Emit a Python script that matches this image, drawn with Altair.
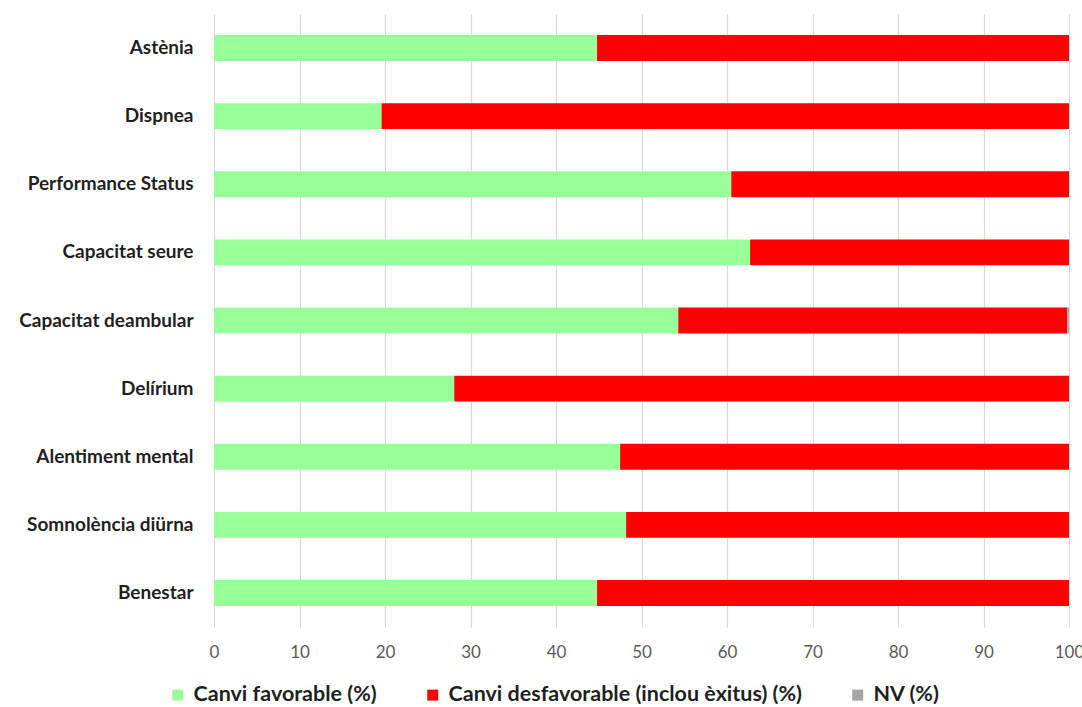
import altair as alt
import pandas as pd

# Symptoms (top to bottom)
symptoms = [
    "Astènia",
    "Dispnea",
    "Performance Status",
    "Capacitat seure",
    "Capacitat deambular",
    "Delírium",
    "Alentiment mental",
    "Somnolència diürna",
    "Benestar",
]

# Percentages per outcome
favorable = [44.8, 19.6, 60.5, 62.7, 54.3, 28.1, 47.5, 48.2, 44.8]
no_value = [0, 0, 0, 0, 0.2, 0, 0, 0, 0]
unfavorable = [round(100 - f - n, 1) for f, n in zip(favorable, no_value)]

series = [
    "Canvi favorable (%)",
    "Canvi desfavorable (inclou èxitus) (%)",
    "NV (%)",
]
colors = ["#99ff99", "#ff0000", "#a6a6a6"]

rows = []
for i, s in enumerate(symptoms):
    for k, (name, vals) in enumerate(zip(series, [favorable, unfavorable, no_value])):
        rows.append({"simptoma": s, "serie": name, "valor": vals[i], "ordre": k})
df = pd.DataFrame(rows)

FONT = "Lato"
TEXT = "#1f1f1f"

chart = (
    alt.Chart(df)
    .mark_bar()
    .encode(
        y=alt.Y(
            "simptoma:N",
            sort=symptoms,
            title=None,
            scale=alt.Scale(paddingInner=0.62, paddingOuter=0.31),
            axis=alt.Axis(
                domain=False,
                ticks=False,
                labelFont=FONT,
                labelFontWeight="bold",
                labelFontSize=19,
                labelColor=TEXT,
                labelPadding=21,
                labelLimit=300,
            ),
        ),
        x=alt.X(
            "valor:Q",
            stack="zero",
            title=None,
            scale=alt.Scale(domain=[0, 100], nice=False),
            axis=alt.Axis(
                values=list(range(0, 101, 10)),
                domain=False,
                ticks=False,
                grid=True,
                gridColor="#d9d9d9",
                gridWidth=1.2,
                labelFont=FONT,
                labelFontSize=17,
                labelColor="#595959",
                labelPadding=17,
                labelFlush=False,
            ),
        ),
        color=alt.Color(
            "serie:N",
            sort=series,
            scale=alt.Scale(domain=series, range=colors),
            legend=alt.Legend(
                title=None,
                orient="none",
                direction="horizontal",
                legendX=-47,
                legendY=670,
                symbolType="square",
                symbolSize=121,
                symbolStrokeWidth=0,
                labelFont=FONT,
                labelFontWeight="bold",
                labelFontSize=21.5,
                labelColor=TEXT,
                labelLimit=600,
                columnPadding=45,
                labelOffset=5,
            ),
        ),
        order=alt.Order("ordre:Q"),
    )
    .properties(width=855, height=613)
    .configure_view(stroke=None)
    .properties(
        autosize=alt.AutoSizeParams(type="none"),
        padding={"left": 214, "top": 14, "right": 13, "bottom": 80},
    )
)

chart.save("out.html", embed_options={"renderer": "svg", "actions": False})
